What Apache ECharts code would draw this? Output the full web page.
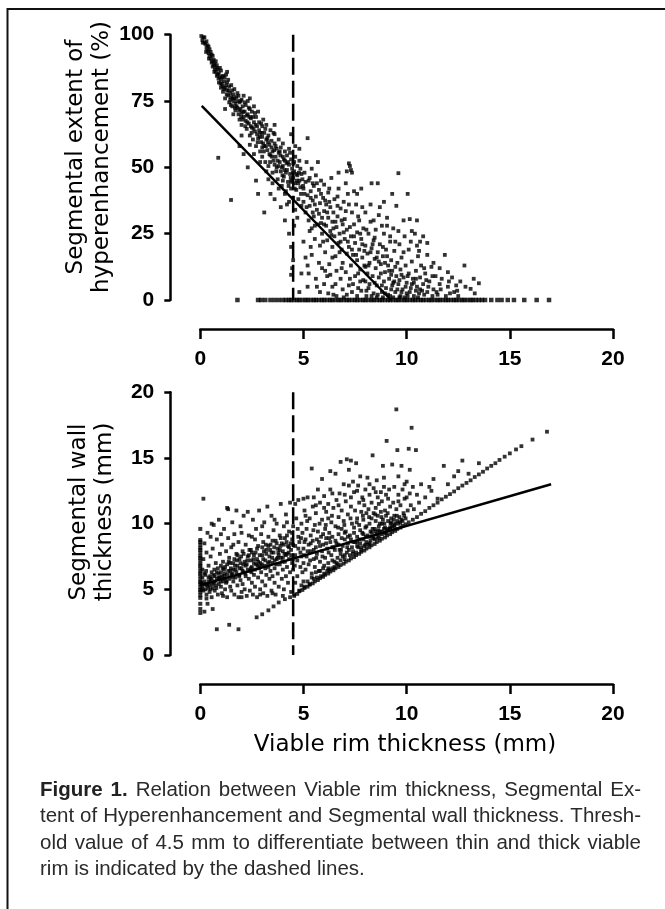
<!DOCTYPE html>
<html>
<head>
<meta charset="utf-8">
<script src="https://cdn.jsdelivr.net/npm/echarts@6/dist/echarts.min.js"></script>
<style>
html,body{margin:0;padding:0;background:#fff;}
#chart{width:665px;height:909px;}
</style>
</head>
<body>
<div id="chart"></div>
<script>
// ---------------- DATA ----------------
const xTicks = [0, 5, 10, 15, 20];
const sehTicks = [0, 25, 50, 75, 100];
const wallTicks = [0, 5, 10, 15, 20];
const thresholdRim = 4.5;

// Top panel: Segmental extent of hyperenhancement (%) vs viable rim thickness (mm)
const sehBand = [
[0.05,99.5],[0.1,98],[0.15,99],[0.2,97],[0.25,96.5],[0.3,95],[0.3,97.5],[0.35,94],[0.4,93],[0.4,95.5],[0.45,92],[0.5,91],[0.5,93.5],[0.55,89.5],[0.6,92],[0.6,88],[0.65,90.5],[0.7,87],[0.7,89],[0.75,86],[0.8,88.5],[0.8,84.5],[0.85,87],[0.9,85.5],[0.9,82],[0.95,84],[1.0,86.5],[1.0,83],[1.0,80],[1.05,81.5],[1.1,84.5],[1.1,78.5],[1.15,82.5],[1.2,80],[1.2,76],[1.25,85],[1.3,79],[1.3,82],[1.35,77],[1.4,80.5],[1.4,74.5],[1.45,78],[1.5,76.5],[1.5,81],[1.55,73],[1.6,77.5],[1.6,75],[1.65,79.5],[1.7,71.5],[1.7,74],[1.75,76.5],[1.8,72.5],[1.8,78],[1.85,70],[1.9,74.5],[1.9,68],[1.95,72],[2.0,75.5],[2.0,70.5],[2.0,66],[2.05,73],[2.1,69],[2.1,77],[2.15,71],[2.2,67.5],[2.2,73.5],[2.25,64.5],[2.3,70],[2.3,75],[2.35,66.5],[2.4,72],[2.4,62],[2.45,68.5],[2.5,65],[2.5,71],[2.55,60.5],[2.6,67],[2.6,73],[2.65,63.5],[2.7,69],[2.7,58],[2.75,65.5],[2.8,61],[2.8,71],[2.85,67],[2.9,63],[2.9,56],[2.95,59.5],[3.0,65.5],[3.0,61.5],[3.0,54],[3.05,68],[3.1,58],[3.1,63],[3.15,52],[3.2,60.5],[3.2,66],[3.25,56.5],[3.3,62],[3.3,50.5],[3.35,58.5],[3.4,54.5],[3.4,64],[3.45,60],[3.5,56],[3.5,48],[3.55,52.5],[3.6,59],[3.6,62.5],[3.65,54],[3.7,50],[3.7,57],[3.75,45.5],[3.8,55.5],[3.8,60.5],[3.85,52],[3.9,48.5],[3.9,57.5],[3.95,43],[4.0,54],[4.0,50.5],[4.0,59],[4.05,46.5],[4.1,52.5],[4.1,56],[4.15,41],[4.2,49],[4.2,54.5],[4.25,44.5],[4.3,51],[4.3,57],[4.35,47.5],[4.4,53],[4.4,42],[4.45,49.5],[4.5,46],[4.5,51.5],[4.5,38.5],[4.55,48.5],[4.6,44],[4.6,54],[4.65,41.5],[4.7,47],[4.7,50.5],[4.75,38],[4.8,45],[4.8,52.5],[4.85,42.5],[4.9,47.5],[4.9,35.5],
[0.2,99],[0.35,96],[0.45,94.5],[0.55,92.5],[0.65,88.5],[0.75,90],[0.85,85],[0.95,87.5],[1.05,84],[1.15,79.5],[1.25,81],[1.35,83],[1.45,75.5],[1.55,79],[1.65,76],[1.75,73],[1.85,77],[1.95,75],[2.05,68],[2.15,74.5],[2.25,69.5],[2.35,72.5],[2.45,65.5],[2.55,69],[2.65,70.5],[2.75,62.5],[2.85,64],[2.95,66.5],[3.05,59],[3.15,64.5],[3.25,61],[3.35,55],[3.45,57.5],[3.55,63],[3.65,58],[3.75,52.5],[3.85,56],[3.95,50],[4.05,53],[4.15,48],[4.25,52],[4.35,55.5],[4.45,45],[4.55,52],[4.65,47.5],[4.75,44],[4.85,49.5],[4.95,45.5],
[0.12,97],[0.28,93.5],[0.42,91],[0.58,90],[0.68,86],[0.78,87.5],[0.88,83.5],[0.98,81.5],[1.08,80.5],[1.18,84],[1.28,77.5],[1.38,79],[1.48,73.5],[1.58,76],[1.68,72.5],[1.78,75],[1.88,71.5],[1.98,69],[2.08,71],[2.18,65.5],[2.28,67],[2.38,69],[2.48,63],[2.58,64.5],[2.68,66],[2.78,59.5],[2.88,61.5],[2.98,63],[3.08,56],[3.18,58],[3.28,59.5],[3.38,52],[3.48,54],[3.58,56.5],[3.68,48.5],[3.78,50.5],[3.88,54.5],[3.98,47],[4.08,49],[4.18,51.5],[4.28,43],[4.38,46],[4.48,48],[4.58,42],[4.68,45],[4.78,48],[4.88,40],[4.98,43],
[1.2,72],[1.6,70],[2.0,62],[2.4,58.5],[2.6,55],[2.9,52],[3.2,48.5],[3.5,44],[3.8,42],[4.1,40],[4.3,37],[4.6,34],[4.7,31],[3.0,57.5],[3.6,51],[4.0,45],[4.4,44.5],
[2.3,50],[2.7,45],[2.8,40],[3.1,33],[3.4,40],[3.3,45.5],[3.9,35],[4.1,30],[4.3,25],[4.4,20],[4.45,12],[4.4,9.5],[4.5,15],[4.55,28],[3.6,38],[2.1,55],[1.9,58],[4.2,36],[0.87,53.6],[1.49,37.7],[4.4,62.5],[4.6,58],[5.2,61],[4.8,57],[3.6,66],[2.4,76],[1.3,86]
];
const sehSpread = [
[5.0,42],[5.0,37],[5.05,48],[5.1,33],[5.1,44.5],[5.15,52],[5.2,39.5],[5.25,30],[5.3,46],[5.3,35.5],[5.35,41],[5.4,27],[5.4,49.5],[5.45,37.5],[5.5,43],[5.5,31.5],[5.55,23],[5.6,39],[5.6,47],[5.65,34],[5.7,28.5],[5.7,52],[5.75,41.5],[5.8,20.5],[5.8,36.5],[5.85,45],[5.9,31],[5.9,25],[5.95,38.5],[6.0,33.5],[6.0,43.5],[6.05,18],[6.1,28],[6.1,36],[6.15,22.5],[6.2,40.5],[6.2,31],[6.25,13.5],[6.3,26],[6.3,35],[6.35,46],[6.4,20],[6.4,29.5],[6.45,33],[6.5,24],[6.5,38],[6.55,16.5],[6.6,27.5],[6.6,11],[6.65,31.5],[6.7,21.5],[6.7,42],[6.75,25],[6.8,8],[6.8,34.5],[6.85,19],[6.9,28.5],[6.9,14],[6.95,37],[7.0,23],[7.0,30.5],[7.05,10.5],[7.1,17.5],[7.1,26.5],[7.15,40],[7.2,20],[7.2,5.5],[7.25,50.5],[7.3,49],[7.35,48],[7.2,51.5],[7.1,48.5],[7.3,24],[7.3,13],[7.35,33],[7.4,17],[7.45,28.5],[7.5,9],[7.5,21.5],[7.55,36],[7.6,15],[7.6,25.5],[7.65,4.5],[7.7,19],[7.7,30],[7.75,11.5],[7.8,23],[7.8,42],[7.85,16],[7.9,7.5],[7.9,27],[7.95,13],[8.0,20.5],[8.0,33],[8.05,3.5],[8.1,17.5],[8.1,10],[8.15,25],[8.2,14],[8.2,6],[8.25,29.5],[8.3,19.5],[8.35,9],[8.4,22.5],[8.4,2.5],[8.45,15.5],[8.5,12],[8.5,26.5],[8.55,5.5],[8.6,44],[8.6,18],[8.65,8.5],[8.7,21],[8.7,35],[8.75,13.5],[8.8,3],[8.85,16.5],[8.9,7],[8.9,25],[8.95,10.5],[9.0,19],[9.0,4.5],[9.05,31],[9.1,13],[9.1,2],[9.15,8],[9.2,22],[9.25,15],[9.3,5.5],[9.3,11],[9.35,27],[9.4,18.5],[9.45,3],[9.5,9],[9.5,35.5],[9.55,14],[9.6,47.8],[9.6,6],[9.65,21],[9.7,1.5],[9.7,11.5],[9.75,16],[9.8,4],[9.85,8.5],[9.9,24],[9.95,13],[10.0,6.5],[10.0,2.5],[10.05,40],[10.1,10],[10.1,19],[10.15,30.5],[10.2,4.5],[10.25,14.5],[10.3,8],[10.35,1.5],[10.4,25],[10.45,11],[10.5,5],[10.5,20.5],[10.55,16.5],[10.6,2.5],[10.65,8.5],[10.7,13],[10.8,6],[10.9,10],[11.0,3],[11.0,17],[11.1,7],[11.2,12.5],[11.3,4],[11.4,9],[11.5,2],[11.6,6],[11.85,17],[12.0,5],[12.2,8.5],[12.3,3],[12.6,7],[12.8,13],[13.1,4.2],[13.3,2.5],[13.5,6.3],[11.9,1.5],[12.5,1.5],
[8.3,44],[8.9,37],[10.5,30],[9.3,40],[6.7,48],
[5.6,8],[5.8,3],[6.0,6],[6.2,2.5],[6.4,5],[6.6,1.5],[6.9,4],[7.1,2],[7.4,6],[7.6,1.5],[7.8,3.5],[8.0,7],[8.3,1.5],[8.6,2],[8.8,5.5],[9.2,1.5],[9.4,7],[9.9,1],[5.2,13],[5.0,22],[5.4,17],[5.2,5],[4.8,3],[4.9,10],[5.1,16],[5.9,12],[6.3,9.5],
[5.05,40],[5.25,45],[5.45,33],[5.65,44],[5.85,29],[6.05,37.5],[6.25,42],[6.45,27],[6.65,35.5],[6.85,30],[7.05,33.5],[7.25,27.5],[7.45,24],[7.65,31.5],[7.85,21],[8.05,26.5],[8.25,18],[8.45,23.5],[8.65,14.5],[8.85,20],[9.05,16.5],[9.25,9.5],[9.45,12.5],[9.65,7.5],[9.85,18],[10.05,9],[10.25,6],[10.45,3.5],[10.65,4],[10.85,2],[11.05,5],[11.25,1.5],[11.45,3],[11.7,8],[12.1,2.5],[12.4,5.5],[5.35,20],[5.75,14],[6.15,9],[6.55,6],[6.95,1],[7.35,3],[7.75,7],[8.15,4.5],[8.55,1],[8.95,2.5],[9.35,1],[9.75,3],[5.3,26],[5.55,36],[6.0,28.5],[6.4,16],[6.8,22],[7.2,36],[7.6,40],[8.0,12.5],[8.4,30],[8.8,28],[9.2,24],[9.6,26],[10.2,22],[10.6,18.5],[11.0,21.5],[11.3,14],[10.8,24],[11.6,12],[12.0,10.5],
[5.15,35],[5.35,38.5],[5.55,28],[5.75,32.5],[5.95,22],[6.15,33],[6.35,24.5],[6.55,29.5],[6.75,18],[6.95,25.5],[7.15,22],[7.35,19],[7.55,17],[7.75,25],[7.95,18.5],[8.15,13],[8.35,21],[8.55,16],[8.75,10],[8.95,14],[9.15,11],[9.35,6.5],[9.55,4],[9.75,9.5],[9.95,5],[10.15,3],[10.35,6.5],[10.55,1],[10.75,3.5],[10.95,7.5],[5.45,44],[5.85,40],[6.25,37],[6.65,39],[7.05,44],[7.45,41],[7.85,35],[8.25,36],[8.65,32],[9.05,28],[9.45,22],[9.85,30],[10.25,26],[10.65,22],[5.25,10],[5.65,5],[6.05,11],[6.45,2],[6.85,12],[7.25,8],[7.65,10],[8.05,1.5],[8.45,6.5],[8.85,1],[9.25,4],[9.65,1],[10.05,1.5],[10.45,8],[10.85,12],[11.25,9],[11.65,4],[12.05,7],[12.45,3.5],[12.85,5],[13.25,8]
];
// Segments with no hyperenhancement (value 0 %)
const sehZeroRim = [1.8,2.8,2.95,3.15,3.4,3.6,3.8,4.0,4.15,4.3,4.4,4.55,4.7,4.8,4.95,5.1,5.2,5.35,5.5,5.6,5.75,5.9,6.0,6.15,6.3,6.4,6.55,6.7,6.8,6.95,7.1,7.2,7.35,7.5,7.6,7.75,7.9,8.0,8.15,8.3,8.4,8.55,8.7,8.8,8.95,9.1,9.2,9.35,9.5,9.6,9.75,9.9,10.0,10.15,10.3,10.4,10.55,10.7,10.8,10.95,11.1,11.2,11.35,11.5,11.6,11.75,11.9,12.0,12.15,12.3,12.4,12.55,12.7,12.8,12.95,13.1,13.2,13.35,13.5,13.65,13.8,14.1,14.4,14.6,14.9,15.2,15.7,16.3,16.9];
const sehFit = [[0.07,73.2],[9.25,0]];

// Bottom panel: Segmental wall thickness (mm) vs viable rim thickness (mm)
const wallZeroRim = [4.35,4.55,4.8,4.95,5.15,5.4,5.55,5.75,6.0,6.2,6.35,6.6,6.8,6.95,7.2,7.4,7.55,7.8,8.0,8.15,8.4,8.6,8.75,9.6,3.5,3.2,3.9];
const wallThin = [
[0.1,5.2],[0.1,6.5],[0.15,4.9],[0.15,7.3],[0.2,5.6],[0.2,8.5],[0.25,5.0],[0.25,6.1],[0.3,4.6],[0.3,7.8],[0.35,5.4],[0.35,9.3],[0.4,5.9],[0.4,6.8],[0.45,4.8],[0.45,5.3],[0.5,7.5],[0.5,5.7],[0.55,4.4],[0.55,6.3],[0.6,5.1],[0.6,8.1],[0.65,5.5],[0.65,9.9],[0.7,6.0],[0.7,4.9],[0.75,7.0],[0.75,5.3],[0.8,5.8],[0.8,8.8],[0.85,4.6],[0.85,6.6],[0.9,5.4],[0.9,10.3],[0.95,7.7],[0.95,5.9],[1.0,5.2],[1.0,6.3],[1.05,8.4],[1.05,4.7],[1.1,5.6],[1.1,7.1],[1.15,6.0],[1.15,9.6],[1.2,5.0],[1.2,6.7],[1.25,7.9],[1.25,5.5],[1.3,4.4],[1.3,6.1],[1.35,11.1],[1.35,8.9],[1.4,5.8],[1.4,7.4],[1.45,6.4],[1.45,5.2],[1.5,8.2],[1.5,4.9],[1.55,6.2],[1.55,10.1],[1.6,5.6],[1.6,7.0],[1.65,9.2],[1.65,4.6],[1.7,6.5],[1.7,5.9],[1.75,7.7],[1.75,11.0],[1.8,5.3],[1.8,6.8],[1.85,8.6],[1.85,4.4],[1.9,6.1],[1.9,7.3],[1.95,5.7],[1.95,9.8],[2.0,6.6],[2.0,4.8],[2.05,7.9],[2.05,5.4],[2.1,6.3],[2.1,10.6],[2.15,7.1],[2.15,5.0],[2.2,8.4],[2.2,6.0],[2.25,4.5],[2.25,6.9],[2.3,10.9],[2.3,7.5],[2.35,5.8],[2.35,9.1],[2.4,6.4],[2.4,4.9],[2.45,7.2],[2.45,8.0],[2.5,5.5],[2.5,6.7],[2.55,10.3],[2.55,4.6],[2.6,7.6],[2.6,6.1],[2.65,8.8],[2.65,5.2],[2.7,6.9],[2.7,9.6],[2.75,7.3],[2.75,4.4],[2.8,5.9],[2.8,8.3],[2.85,6.6],[2.85,11.0],[2.9,7.0],[2.9,5.0],[2.95,9.2],[2.95,6.3],[3.0,7.6],[3.0,5.6],[3.05,8.6],[3.05,4.7],[3.1,6.8],[3.1,10.1],[3.15,7.2],[3.15,5.3],[3.2,8.0],[3.2,6.1],[3.25,11.3],[3.25,4.5],[3.3,6.7],[3.3,9.0],[3.35,7.5],[3.35,5.8],[3.4,8.4],[3.4,6.4],[3.45,4.9],[3.45,10.6],[3.5,7.0],[3.5,6.0],[3.55,9.5],[3.55,7.8],[3.6,5.5],[3.6,6.6],[3.65,8.7],[3.65,4.6],[3.7,7.3],[3.7,10.0],[3.75,6.2],[3.75,8.1],[3.8,7.6],[3.8,5.2],[3.85,9.1],[3.85,6.9],[3.9,11.5],[3.9,7.4],[3.95,5.8],[3.95,8.5],[4.0,6.5],[4.0,7.9],[4.05,9.8],[4.05,5.0],[4.1,7.1],[4.1,8.9],[4.15,6.0],[4.15,10.7],[4.2,7.7],[4.2,6.7],[4.25,8.3],[4.25,5.5],[4.3,9.4],[4.3,7.3],[4.35,6.3],[4.35,11.6],[4.4,8.0],[4.4,4.8],[4.45,8.8],[4.45,7.0],[4.5,9.8],[4.5,6.5],
[0.05,5.5],[0.1,5.9],[0.2,6.2],[0.3,5.3],[0.4,5.6],[0.5,5.0],[0.55,5.8],[0.65,6.1],[0.7,5.6],[0.8,6.3],[0.9,5.9],[1.0,6.8],[1.05,6.0],[1.15,6.5],[1.2,5.8],[1.3,6.9],[1.35,6.4],[1.45,7.0],[1.5,6.1],[1.6,6.5],[1.65,7.3],[1.75,6.3],[1.8,7.6],[1.9,6.6],[1.95,7.0],[2.05,6.4],[2.1,7.7],[2.2,6.8],[2.3,6.5],[2.35,7.6],[2.45,6.6],[2.5,7.8],[2.6,7.0],[2.65,6.5],[2.75,8.1],[2.8,7.1],[2.9,6.7],[3.0,8.2],[3.05,7.3],[3.15,6.6],[3.2,7.7],[3.3,8.3],[3.35,7.1],[3.45,7.8],[3.5,8.7],[3.6,7.2],[3.7,8.5],[3.75,7.4],[3.85,8.0],[3.9,8.9],[4.0,7.4],[4.05,8.4],[4.15,7.6],[4.2,9.1],[4.3,8.2],[4.4,7.6],[4.45,9.3],[4.5,8.4],
[0.08,5.0],[0.18,5.4],[0.28,6.4],[0.38,5.1],[0.48,6.0],[0.58,5.4],[0.68,6.5],[0.78,5.1],[0.88,6.2],[0.98,5.6],[1.08,6.6],[1.18,6.2],[1.28,5.6],[1.38,7.1],[1.48,6.6],[1.58,5.9],[1.68,6.8],[1.78,7.2],[1.88,6.0],[1.98,7.5],[2.08,6.9],[2.18,6.2],[2.28,7.2],[2.38,8.0],[2.48,6.3],[2.58,7.3],[2.68,7.8],[2.78,6.8],[2.88,7.6],[2.98,6.9],[3.08,7.9],[3.18,8.4],[3.28,7.0],[3.38,8.0],[3.48,7.4],[3.58,8.2],[3.68,6.9],[3.78,7.8],[3.88,8.3],[3.98,7.1],[4.08,7.7],[4.18,8.6],[4.28,7.8],[4.38,8.5],[4.48,7.3],
[0.5,9.0],[1.0,9.2],[1.6,8.4],[2.0,9.3],[2.5,9.0],[3.0,9.8],[3.6,10.3],[4.2,10.1],[0.3,4.3],[1.1,4.5],[2.0,4.4],[2.9,4.6],[3.5,4.7],[4.0,4.5],
[0.15,11.9],[1.3,11.2],[0.55,10.0],
[0.8,1.96],[1.4,2.3],[1.85,1.96],[0.6,3.5],[0.2,3.3],[0.35,3.9],[2.73,2.87],[3.0,3.1],[3.3,3.4],[3.55,3.7],[3.8,4.0],[4.1,4.25],[4.35,4.4]
];
const wallThick = [
[4.55,4.6],[4.6,8.3],[4.6,5.5],[4.65,10.4],[4.7,7.2],[4.7,6.0],[4.75,9.0],[4.75,11.8],[4.8,4.9],[4.8,8.6],[4.85,6.7],[4.85,7.8],[4.9,10.0],[4.9,5.3],[4.95,9.3],[4.95,6.3],[5.0,8.1],[5.0,7.0],[5.05,11.0],[5.05,5.2],[5.1,8.8],[5.1,6.5],[5.15,9.6],[5.15,7.5],[5.2,5.6],[5.2,12.0],[5.25,8.4],[5.25,6.9],[5.3,10.4],[5.3,5.4],[5.35,7.9],[5.35,9.1],[5.4,14.2],[5.4,6.2],[5.45,8.7],[5.45,11.3],[5.5,7.3],[5.5,5.8],[5.55,9.9],[5.55,6.7],[5.6,8.2],[5.6,10.8],[5.65,5.9],[5.65,7.7],[5.7,12.6],[5.7,9.4],[5.75,6.4],[5.75,8.6],[5.8,11.6],[5.8,7.1],[5.85,6.0],[5.85,9.0],[5.9,10.3],[5.9,7.9],[5.95,6.6],[5.95,8.4],[6.0,12.1],[6.0,6.2],[6.05,9.6],[6.05,7.4],[6.1,8.9],[6.1,10.9],[6.15,6.4],[6.15,8.1],[6.2,11.5],[6.2,7.0],[6.25,9.3],[6.25,6.5],[6.3,8.6],[6.3,12.6],[6.35,7.6],[6.35,10.1],[6.4,6.6],[6.4,9.0],[6.45,11.2],[6.45,8.2],[6.5,7.1],[6.5,6.7],[6.55,9.8],[6.55,13.8],[6.6,8.5],[6.6,11.8],[6.65,7.4],[6.65,6.9],[6.7,10.5],[6.7,9.2],[6.75,8.0],[6.75,12.3],[6.8,7.2],[6.8,14.7],[6.85,9.6],[6.85,11.0],[6.9,8.3],[6.9,7.5],[6.95,10.2],[6.95,13.0],[7.0,8.8],[7.0,7.3],[7.05,11.7],[7.05,9.4],[7.1,14.9],[7.1,7.8],[7.15,10.7],[7.15,8.5],[7.2,12.9],[7.2,14.1],[7.25,9.1],[7.25,7.6],[7.3,11.3],[7.3,14.8],[7.35,8.2],[7.35,10.0],[7.4,13.2],[7.4,7.9],[7.45,9.7],[7.45,12.4],[7.5,8.6],[7.5,11.0],[7.55,7.8],[7.55,14.6],[7.6,10.4],[7.6,9.0],[7.65,12.9],[7.65,8.2],[7.7,11.6],[7.7,9.9],[7.75,8.5],[7.75,13.6],[7.8,10.9],[7.8,8.0],[7.85,9.3],[7.85,12.0],[7.9,8.8],[7.9,10.3],[7.95,11.4],[7.95,8.3],[8.0,9.7],[8.0,12.6],[8.05,8.6],[8.05,10.8],[8.1,9.1],[8.1,13.5],[8.15,11.1],[8.15,8.4],[8.2,10.0],[8.2,12.2],[8.25,9.4],[8.25,8.7],[8.3,11.6],[8.3,10.4],[8.35,15.2],[8.35,9.0],[8.4,10.8],[8.4,12.7],[8.45,9.6],[8.45,8.8],[8.5,11.2],[8.5,10.2],[8.55,9.2],[8.55,13.3],[8.6,10.6],[8.6,12.0],[8.65,9.0],[8.65,11.5],[8.7,10.0],[8.7,9.4],[8.75,12.4],[8.75,10.9],[8.8,9.2],[8.8,11.7],[8.85,10.3],[8.85,14.4],[8.9,9.6],[8.9,12.8],[8.95,11.0],[8.95,9.3],[9.0,10.6],[9.03,16.3],[9.05,9.5],[9.1,11.9],[9.1,10.2],[9.15,12.6],[9.2,9.7],[9.2,11.3],[9.25,10.4],[9.3,14.5],[9.3,9.8],[9.35,11.6],[9.4,10.6],[9.4,12.8],[9.45,10.0],[9.5,18.7],[9.5,11.1],[9.55,15.6],[9.55,10.2],[9.6,12.2],[9.65,10.5],[9.7,11.4],[9.75,14.4],[9.75,10.3],[9.8,12.6],[9.85,10.8],[9.9,11.9],[9.95,10.4],[10.0,13.2],[10.05,11.0],[10.1,15.7],[10.15,14.1],[10.15,12.3],[10.2,11.4],[10.24,17.3],[10.3,12.8],[10.35,11.1],[10.45,15.6],[10.5,12.2],[10.6,11.6],[10.7,13.0],[10.9,12.0],[11.2,12.5],[11.3,13.4],[11.5,11.9],[11.8,14.4],[12.0,13.0],[12.3,13.6],[12.7,14.8],[13.0,13.8],[13.5,14.6],[11.1,12.8],[12.5,14.0],
[4.6,7.6],[4.75,8.1],[4.9,7.5],[5.05,8.6],[5.2,7.9],[5.35,8.5],[5.5,8.0],[5.65,8.8],[5.8,8.3],[5.95,9.2],[6.1,8.5],[6.25,8.9],[6.4,8.2],[6.55,8.7],[6.7,8.4],[6.85,8.9],[7.0,9.3],[7.15,9.0],[7.3,8.8],[7.45,9.3],[7.6,8.6],[7.75,9.5],[7.9,9.2],[8.05,9.8],[8.2,9.0],[8.35,9.6],[8.5,9.4],[8.65,9.8],[8.8,10.0],[8.95,9.7],[9.1,9.6],[9.25,10.1],[9.4,9.9],[9.6,10.0],[9.8,10.2],
[5.0,5.6],[5.4,5.9],[5.8,6.4],[6.2,6.6],[6.6,7.0],[7.0,7.6],[7.4,7.7],[7.8,8.2],[8.2,8.5],[8.6,8.9],[9.0,9.3],[9.4,9.7],[5.6,6.3],[6.0,6.8],[6.4,7.2],[6.8,7.7],[7.2,8.0],[7.6,8.3],[8.0,8.4],[8.4,8.9],[8.8,9.4],[9.2,9.6],
[4.6,11.5],[5.0,11.9],[5.5,12.0],[6.0,11.2],[6.4,12.3],[7.0,12.2],[7.6,12.5],[8.2,13.0],[8.9,13.5],[9.6,13.6],[9.9,13.0],[5.9,13.4],[6.3,14.0],
[4.58,6.8],[4.72,9.6],[4.88,8.9],[5.02,7.6],[5.18,10.2],[5.32,7.2],[5.48,9.5],[5.62,7.4],[5.78,10.0],[5.92,7.5],[6.08,9.9],[6.22,7.8],[6.38,10.6],[6.52,8.0],[6.68,9.7],[6.82,8.0],[6.98,9.9],[7.12,8.2],[7.28,10.4],[7.42,8.6],[7.58,10.1],[7.72,8.8],[7.88,10.6],[8.02,9.0],[8.18,10.5],[8.32,9.3],[8.48,10.7],[8.62,9.5],[8.78,10.5],[8.92,10.0],[9.08,10.8],[9.22,10.0],[9.38,10.3],[9.52,10.6],[9.68,10.1],[9.88,10.6],
[5.1,10.6],[5.6,11.4],[6.2,10.4],[6.7,11.4],[7.3,12.0],[7.9,11.8],[8.5,12.4],[9.0,12.2],[9.6,11.7],[10.0,12.0]
];
// Segments where wall thickness equals viable rim (no scar)
const wallEqualRim = [
[4.55,4.5],[4.7,4.65],[4.8,4.85],[4.95,4.95],[5.05,5.1],[5.2,5.2],[5.3,5.35],[5.45,5.45],[5.55,5.6],[5.7,5.7],[5.8,5.85],[5.95,5.95],[6.05,6.1],[6.2,6.2],[6.3,6.35],[6.45,6.45],[6.55,6.6],[6.7,6.7],[6.8,6.85],[6.95,6.95],[7.05,7.1],[7.2,7.2],[7.3,7.35],[7.45,7.45],[7.55,7.6],[7.7,7.7],[7.8,7.85],[7.95,7.95],[8.05,8.1],[8.2,8.2],[8.3,8.35],[8.45,8.45],[8.55,8.6],[8.7,8.7],[8.8,8.85],[8.95,8.95],[9.05,9.1],[9.2,9.2],[9.3,9.35],[9.45,9.45],[9.55,9.6],[9.7,9.7],[9.8,9.85],[9.95,9.95],[10.1,10.1],[10.3,10.3],[10.5,10.5],[10.7,10.75],[10.9,10.95],[11.1,11.2],[11.3,11.4],[11.5,11.6],[11.7,11.85],[11.9,12.05],[12.1,12.25],[12.3,12.45],[12.5,12.7],[12.7,12.9],[12.9,13.1],[13.1,13.3],[13.3,13.55],[13.5,13.75],[13.7,13.95],[13.9,14.2],[14.1,14.4],[14.3,14.6],[14.5,14.85],[14.75,15.1],[15.0,15.35],[15.3,15.65],[15.56,15.9],[16.1,16.4],[16.8,17.0]
];
const wallFit = [[0,5.3],[17,13.0]];

const yTitleTop = 'Segmental extent of\nhyperenhancement (%)';
const yTitleBottom = 'Segmental wall\nthickness (mm)';
const xTitle = 'Viable rim thickness (mm)';
const captionBoldWords = 2;
const captionLines = [
  'Figure 1. Relation between Viable rim thickness, Segmental Ex-',
  'tent of Hyperenhancement and Segmental wall thickness. Thresh-',
  'old value of 4.5 mm to differentiate between thin and thick viable',
  'rim is indicated by the dashed lines.'
];

// ---------------- CHART ----------------
const chart = echarts.init(document.getElementById('chart'), null, {renderer: 'canvas'});
const TICK_FONT = {fontFamily: '"Liberation Sans", Arial, sans-serif', fontWeight: 'bold', fontSize: 21, color: '#000'};
const TITLE_FAMILY = '"DejaVu Sans", sans-serif';
const DOT = 3.8;

function xAxisCfg(gi) {
  return {
    gridIndex: gi, type: 'value', min: xTicks[0], max: xTicks[xTicks.length - 1], interval: 5,
    offset: 29,
    axisLine: {show: true, onZero: false, lineStyle: {color: '#000', width: 2.5}},
    axisTick: {show: true, length: 10, lineStyle: {color: '#000', width: 2.5}},
    axisLabel: Object.assign({margin: 20}, TICK_FONT),
    splitLine: {show: false}
  };
}
function yAxisCfg(gi, ticks) {
  return {
    gridIndex: gi, type: 'value', min: ticks[0], max: ticks[ticks.length - 1], interval: ticks[1] - ticks[0],
    offset: 30,
    axisLine: {show: true, onZero: false, lineStyle: {color: '#000', width: 2.5}},
    axisTick: {show: true, length: 6, lineStyle: {color: '#000', width: 2.5}},
    axisLabel: Object.assign({margin: 16}, TICK_FONT),
    splitLine: {show: false}
  };
}
function pts(gi, data, size) {
  return {type: 'scatter', xAxisIndex: gi, yAxisIndex: gi, data: data, symbol: 'rect',
    symbolSize: size || DOT, itemStyle: {color: '#000'}, clip: false, silent: true, z: 3};
}
function line(gi, data, extra) {
  return {type: 'line', xAxisIndex: gi, yAxisIndex: gi, data: data, symbol: 'none',
    lineStyle: Object.assign({color: '#000', width: 2.5}, extra || {}), silent: true, z: 4, clip: false};
}

function captionElements() {
  const CAP_X = 40, CAP_W = 601, CAP_Y0 = 790, CAP_LH = 26.5, SIZE = 20.5;
  const fam = '"Liberation Sans", Arial, sans-serif';
  const ctx = document.createElement('canvas').getContext('2d');
  const els = [];
  captionLines.forEach((ln, i) => {
    const words = ln.split(' ');
    const weights = words.map((w, j) => (i === 0 && j < captionBoldWords) ? 'bold' : 'normal');
    const widths = words.map((w, j) => { ctx.font = weights[j] + ' ' + SIZE + 'px ' + fam; return ctx.measureText(w).width; });
    const total = widths.reduce((a, b) => a + b, 0);
    ctx.font = 'normal ' + SIZE + 'px ' + fam;
    const space = ctx.measureText(' ').width;
    const justify = i < captionLines.length - 1;
    const gap = justify ? (CAP_W - total) / (words.length - 1) : space;
    let x = CAP_X;
    words.forEach((w, j) => {
      els.push({type: 'text', x: x, y: CAP_Y0 + i * CAP_LH, silent: true,
        style: {text: w, fontFamily: fam, fontSize: SIZE, fontWeight: weights[j],
          fill: weights[j] === 'bold' ? '#222' : '#2a2a2a', align: 'left', verticalAlign: 'middle'}});
      x += widths[j] + gap;
    });
  });
  return els;
}

const option = {
  animation: false,
  backgroundColor: '#fff',
  grid: [
    {left: 200.3, top: 34.7, width: 412.7, height: 265.3, containLabel: false},
    {left: 200.3, top: 392.3, width: 412.7, height: 262.7, containLabel: false}
  ],
  xAxis: [xAxisCfg(0), xAxisCfg(1)],
  yAxis: [yAxisCfg(0, sehTicks), yAxisCfg(1, wallTicks)],
  series: [
    pts(0, sehBand), pts(0, sehSpread), pts(0, sehZeroRim.map(x => [x, 0]), 4.5),
    line(0, sehFit),
    line(0, [[thresholdRim, sehTicks[sehTicks.length - 1]], [thresholdRim, sehTicks[0]]], {type: [17, 6]}),
    pts(1, wallZeroRim.map(y => [0, y]), 4), pts(1, wallThin), pts(1, wallThick), pts(1, wallEqualRim),
    line(1, wallFit),
    line(1, [[thresholdRim, wallTicks[wallTicks.length - 1]], [thresholdRim, wallTicks[0]]], {type: [17, 6]})
  ],
  graphic: [
    {type: 'polyline', silent: true, shape: {points: [[665, 9], [7.5, 9], [7.5, 909]]},
      style: {stroke: '#111', lineWidth: 2, fill: null}},
    {type: 'text', x: 89, y: 157, rotation: Math.PI / 2, silent: true,
      style: {text: yTitleTop, fontFamily: TITLE_FAMILY, fontSize: 23, lineHeight: 26, fill: '#000', align: 'center', verticalAlign: 'middle'}},
    {type: 'text', x: 92, y: 512, rotation: Math.PI / 2, silent: true,
      style: {text: yTitleBottom, fontFamily: TITLE_FAMILY, fontSize: 23, lineHeight: 26, fill: '#000', align: 'center', verticalAlign: 'middle'}},
    {type: 'text', x: 405, y: 745, silent: true,
      style: {text: xTitle, fontFamily: TITLE_FAMILY, fontSize: 23, fill: '#000', align: 'center', verticalAlign: 'middle'}}
  ].concat(captionElements())
};
chart.setOption(option);
</script>
</body>
</html>
